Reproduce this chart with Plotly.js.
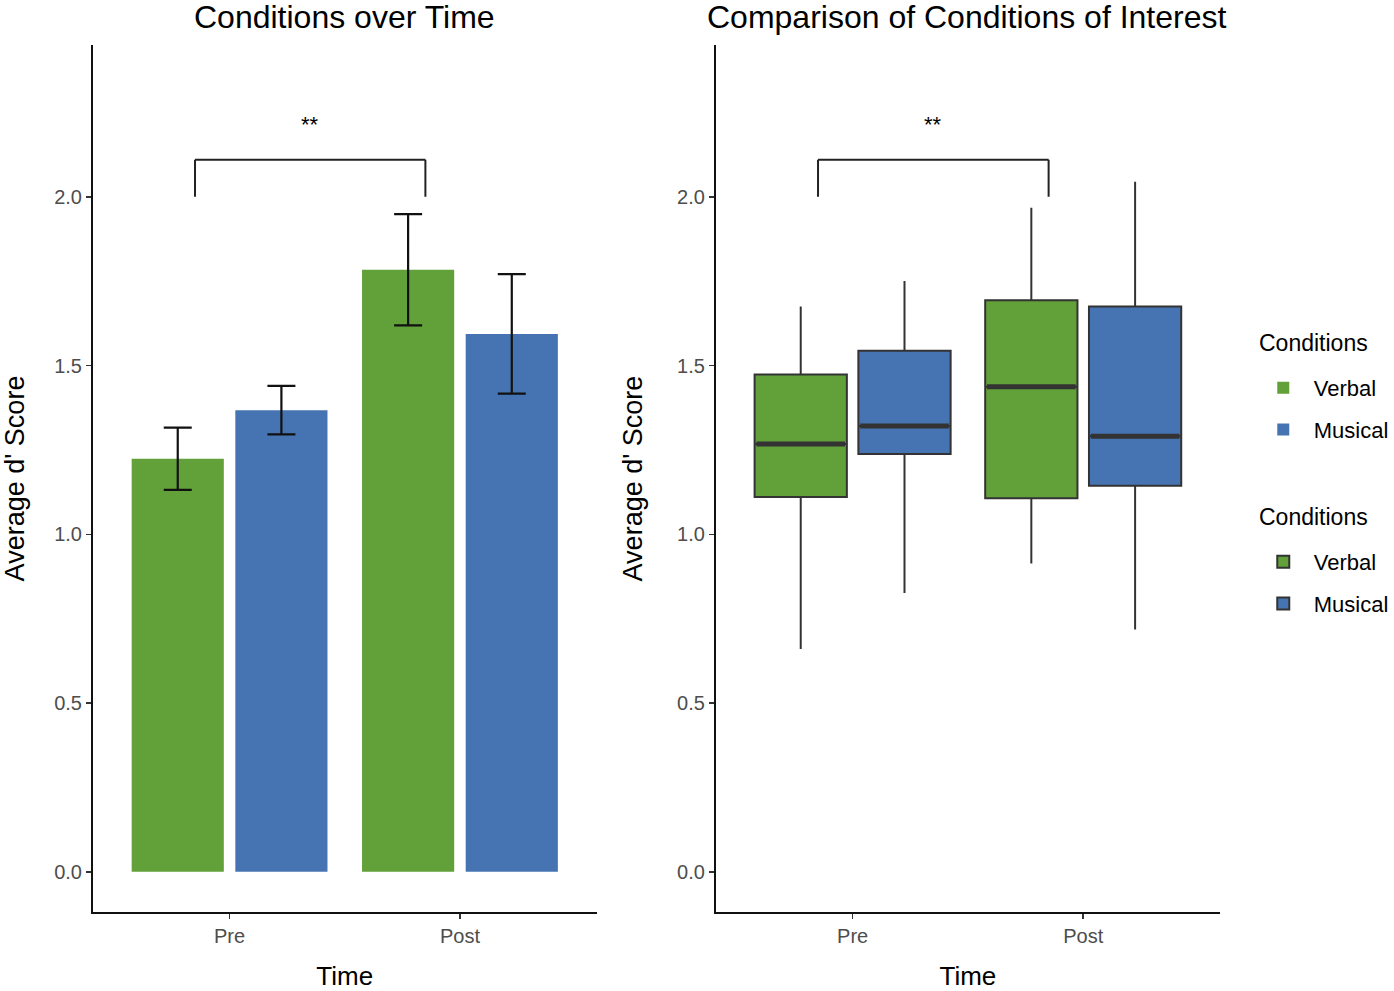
<!DOCTYPE html>
<html><head><meta charset="utf-8">
<script src="https://cdn.plot.ly/plotly-3.0.1.min.js"></script>
<style>html,body{margin:0;padding:0;background:#fff}#chart{width:1394px;height:991px}</style>
</head><body><div id="chart"></div>
<script>
// ---- data ----
const times = ["Pre", "Post"];
const conditions = ["Verbal", "Musical"];
const tickVals = [0, 0.5, 1.0, 1.5, 2.0];
const legendTitle = "Conditions";

// bar panel: mean and error (half-width)
const verbalMean = [1.224, 1.784];
const musicalMean = [1.368, 1.594];
const verbalErr = [0.092, 0.165];
const musicalErr = [0.072, 0.177];

// box panel
const verbalLower = [0.660, 0.914];
const verbalQ1 = [1.111, 1.107];
const verbalMedian = [1.268, 1.437];
const verbalQ3 = [1.474, 1.694];
const verbalUpper = [1.675, 1.968];
const musicalLower = [0.826, 0.718];
const musicalQ1 = [1.238, 1.144];
const musicalMedian = [1.321, 1.291];
const musicalQ3 = [1.544, 1.675];
const musicalUpper = [1.751, 2.045];

// significance bracket
const sigLabel = "**";
const sigBracketY = 2.11;
const sigLegY = 2.0;
const sigStarY = 2.215;
const sigX0 = -0.15;
const sigX1 = 0.85;

// ---- styling ----
const GREEN = "#62A03A";
const BLUE = "#4674B2";
const FONT = "Liberation Sans, Arial, Helvetica, sans-serif";
const colors = {Verbal: GREEN, Musical: BLUE};

const traces = [];
const barMeans = {Verbal: verbalMean, Musical: musicalMean};
const barErrs = {Verbal: verbalErr, Musical: musicalErr};
conditions.forEach(c => {
  traces.push({
    type: "bar", name: c, x: times, y: barMeans[c],
    xaxis: "x", yaxis: "y",
    marker: {color: colors[c], line: {width: 0}},
    error_y: {type: "data", array: barErrs[c], visible: true, color: "#111", thickness: 2.2, width: 14},
    legend: "legend", legendgroup: "bar" + c, showlegend: true,
    hoverinfo: "skip"
  });
});

const boxStats = {
  Verbal: {lo: verbalLower, q1: verbalQ1, med: verbalMedian, q3: verbalQ3, hi: verbalUpper},
  Musical: {lo: musicalLower, q1: musicalQ1, med: musicalMedian, q3: musicalQ3, hi: musicalUpper}
};
conditions.forEach(c => {
  const s = boxStats[c];
  traces.push({
    type: "box", name: c, x: times,
    q1: s.q1, median: s.med, q3: s.q3, lowerfence: s.lo, upperfence: s.hi,
    xaxis: "x2", yaxis: "y2",
    fillcolor: colors[c], line: {color: "#333333", width: 2},
    whiskerwidth: 0, boxpoints: false,
    legend: "legend2", legendgroup: "box" + c, showlegend: true,
    hoverinfo: "skip"
  });
});

// shapes: bracket in both panels + thick medians
const shapes = [];
[["x", "y"], ["x2", "y2"]].forEach(([xr, yr]) => {
  const ln = {color: "#222", width: 2};
  shapes.push({type: "line", xref: xr, yref: yr, x0: sigX0, x1: sigX1, y0: sigBracketY, y1: sigBracketY, line: ln});
  shapes.push({type: "line", xref: xr, yref: yr, x0: sigX0, x1: sigX0, y0: sigLegY, y1: sigBracketY, line: ln});
  shapes.push({type: "line", xref: xr, yref: yr, x0: sigX1, x1: sigX1, y0: sigLegY, y1: sigBracketY, line: ln});
});
const offsets = {Verbal: -0.225, Musical: 0.225};
const halfW = 0.2;
conditions.forEach(c => {
  boxStats[c].med.forEach((m, i) => {
    shapes.push({type: "line", xref: "x2", yref: "y2",
      x0: i + offsets[c] - halfW + 0.008, x1: i + offsets[c] + halfW - 0.008, y0: m, y1: m,
      line: {color: "#333333", width: 5}});
  });
});

const xRange = [-0.593, 1.593];
const yRange = [-0.119, 2.45];
const yDomain = [1 - 912 / 991, 1 - 45 / 991];

function xAxis(dom, anchor) {
  return {
    domain: dom, anchor: anchor, type: "category", range: xRange,
    showline: true, linecolor: "#111", linewidth: 2, mirror: false,
    ticks: "outside", ticklen: 5, tickwidth: 1.5, tickcolor: "#333",
    tickfont: {family: FONT, size: 20, color: "#4D4D4D"},
    showgrid: false, zeroline: false, fixedrange: true, automargin: false,
    title: {text: "Time", font: {family: FONT, size: 26, color: "#000"}, standoff: 29}
  };
}
function yAxis(dom, anchor) {
  return {
    domain: dom, anchor: anchor, range: yRange,
    tickvals: tickVals, tickformat: ".1f",
    showline: true, linecolor: "#111", linewidth: 2,
    ticks: "outside", ticklen: 5, tickwidth: 1.5, tickcolor: "#333",
    tickfont: {family: FONT, size: 20, color: "#4D4D4D"},
    showgrid: false, zeroline: false, fixedrange: true, automargin: false,
    title: {text: "Average d' Score", font: {family: FONT, size: 27, color: "#000"}, standoff: 27}
  };
}

const legendCommon = {
  xanchor: "left", yanchor: "top", x: 1260 / 1394,
  font: {family: FONT, size: 22, color: "#000"},
  bgcolor: "rgba(0,0,0,0)", traceorder: "grouped", tracegroupgap: 10,
  itemwidth: 51
};

const layout = {
  width: 1394, height: 991,
  margin: {l: 0, r: 0, t: 0, b: 0},
  paper_bgcolor: "#fff", plot_bgcolor: "#fff",
  font: {family: FONT},
  barmode: "group", bargap: 0.1, bargroupgap: 0.111,
  boxmode: "group", boxgap: 0.1, boxgroupgap: 0.111,
  xaxis: xAxis([93.5 / 1394, 600 / 1394], "y"),
  yaxis: yAxis(yDomain, "x"),
  xaxis2: xAxis([720 / 1394, 1227 / 1394], "y2"),
  yaxis2: yAxis(yDomain, "x2"),
  legend: Object.assign({}, legendCommon, {y: 1 - 367 / 991}),
  legend2: Object.assign({}, legendCommon, {y: 1 - 541 / 991}),
  shapes: shapes,
  annotations: [
    {xref: "paper", yref: "paper", x: 346 / 1394, y: 1, xanchor: "center", yanchor: "top", yshift: 3,
     text: "Conditions over Time", showarrow: false, font: {family: FONT, size: 32, color: "#000"}},
    {xref: "paper", yref: "paper", x: 972 / 1394, y: 1, xanchor: "center", yanchor: "top", yshift: 3,
     text: "Comparison of Conditions of Interest", showarrow: false, font: {family: FONT, size: 32, color: "#000"}},
    {xref: "paper", yref: "paper", x: 1264 / 1394, y: 1 - 343 / 991, xanchor: "left", yanchor: "middle",
     text: legendTitle, showarrow: false, font: {family: FONT, size: 23, color: "#000"}},
    {xref: "paper", yref: "paper", x: 1264 / 1394, y: 1 - 517 / 991, xanchor: "left", yanchor: "middle",
     text: legendTitle, showarrow: false, font: {family: FONT, size: 23, color: "#000"}},
    {xref: "x", yref: "y", x: (sigX0 + sigX1) / 2, y: sigStarY, text: sigLabel, showarrow: false,
     font: {family: FONT, size: 22, color: "#000"}},
    {xref: "x2", yref: "y2", x: (sigX0 + sigX1) / 2, y: sigStarY, text: sigLabel, showarrow: false,
     font: {family: FONT, size: 22, color: "#000"}}
  ]
};

Plotly.newPlot("chart", traces, layout, {displayModeBar: false, staticPlot: true});
</script>
</body></html>
